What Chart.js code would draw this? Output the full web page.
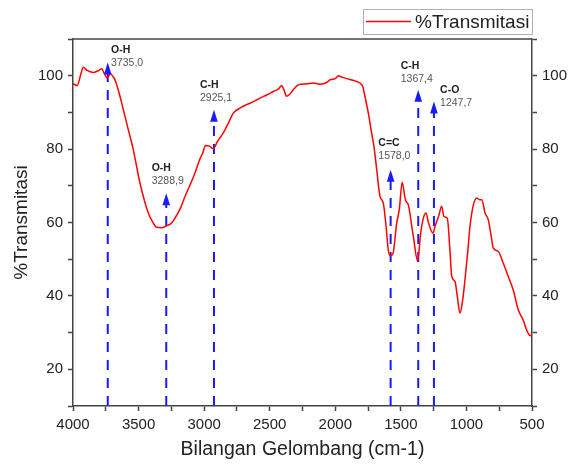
<!DOCTYPE html>
<html>
<head>
<meta charset="utf-8">
<script src="https://cdn.jsdelivr.net/npm/chart.js@4.4.1/dist/chart.umd.min.js"></script>
<style>
  html, body { margin: 0; padding: 0; background: #fff; }
  #wrap { width: 570px; height: 466px; }
</style>
</head>
<body>
<div id="wrap"><canvas id="ftir" width="570" height="466"></canvas></div>
<script>
// spectrum (cm-1 vs %T)
const wavenumber = [4000, 3967, 3940, 3921, 3896, 3845, 3800, 3781, 3760, 3740, 3715, 3690, 3680, 3650, 3616, 3580, 3540,
  3489, 3426, 3390, 3362, 3320, 3286, 3250, 3222, 3180, 3146, 3110, 3070, 3030, 3010, 2990, 2960, 2929, 2900, 2854,
  2810, 2778, 2720, 2676, 2620, 2574, 2520, 2473, 2430, 2409, 2390, 2371, 2345, 2320, 2282, 2218, 2167, 2120, 2091,
  2060, 2040, 2000, 1977, 1950, 1913, 1850, 1812, 1790, 1774, 1748, 1723, 1705, 1684, 1659, 1634, 1613, 1596, 1578,
  1560, 1532, 1512, 1490, 1470, 1461, 1443, 1405, 1372, 1349, 1330, 1308, 1290, 1255, 1240, 1210, 1189, 1171, 1146,
  1125, 1112, 1087, 1070, 1049, 1030, 1011, 990, 973, 947, 921, 900, 883, 858, 833, 810, 795, 757, 719, 681, 643,
  605, 567, 541, 520, 500];
const transmitasi = [97.8, 97.3, 100.5, 102.3, 101.5, 100.9, 101.5, 101.9, 100.5, 99.4, 100.5, 99.5, 98.9, 95.5, 90.7, 85.5, 79.8,
  70.7, 62.6, 60.0, 58.7, 58.6, 59.1, 59.8, 61.2, 64.0, 67.1, 70.0, 73.5, 77.5, 79.0, 81.0, 80.8, 80.1, 82.0, 84.4,
  87.5, 89.8, 91.3, 92.1, 93.0, 93.9, 94.8, 95.7, 96.5, 97.3, 96.0, 94.4, 95.0, 96.2, 97.5, 97.8, 98.0, 97.7, 97.8,
  98.3, 98.9, 99.2, 100.0, 99.6, 99.2, 98.6, 98.0, 97.0, 94.4, 89.8, 84.4, 80.7, 74.4, 67.1, 65.3, 59.1, 52.5, 51.0,
  51.5, 59.8, 63.5, 71.0, 67.0, 65.8, 64.8, 56.2, 49.5, 57.0, 61.0, 62.6, 60.0, 57.1, 58.9, 62.0, 64.4, 61.6, 61.2,
  52.0, 45.3, 43.9, 40.0, 35.3, 38.5, 44.4, 52.0, 58.9, 64.8, 66.7, 66.2, 66.2, 62.6, 60.7, 56.0, 53.0, 52.1, 48.9, 45.3, 41.6,
  36.2, 33.4, 30.7, 29.3, 29.1];

// marked peaks
const peak_wn = [3735.0, 3288.9, 2925.1, 1578.0, 1367.4, 1247.7];
const peak_group = ['O-H', 'O-H', 'C-H', 'C=C', 'C-H', 'C-O'];
const peak_tip = [103.6, 68.0, 90.7, 74.4, 96.2, 93.0];
// where each peak's text sits (cm-1, %T)
const label_wn = [3710, 3400, 3032, 1672, 1501, 1201];
const label_t = [107.1, 74.8, 97.3, 81.5, 102.7, 96.2];

const FONT = "'Liberation Sans', Arial, sans-serif";
const AXIS = '#444';
const BLUE = '#1a1aff';

let spectrum = wavenumber.map((w, i) => ({x: w, y: transmitasi[i]}));
let datasets = [{
  label: '%Transmitasi',
  data: spectrum,
  borderColor: '#ff0000',
  borderWidth: 1.5,
  pointRadius: 0,
  cubicInterpolationMode: 'monotone',
  order: 1
}];
peak_wn.forEach((w, i) => {
  datasets.push({
    label: 'peak' + i,
    data: [{x: w, y: 10}, {x: w, y: peak_tip[i] - 2}],
    borderColor: BLUE,
    borderWidth: 2,
    borderDash: [10, 8],
    pointRadius: 0,
    order: 2
  });
});

const peak_marks = {
  id: 'peak_marks',
  afterDatasetsDraw(chart) {
    let ctx = chart.ctx, xs = chart.scales.x, ys = chart.scales.y;
    ctx.save();
    peak_wn.forEach((w, i) => {
      let px = xs.getPixelForValue(w), py = ys.getPixelForValue(peak_tip[i]);
      ctx.fillStyle = BLUE;
      ctx.beginPath();
      ctx.moveTo(px, py);
      ctx.lineTo(px - 3.8, py + 12);
      ctx.lineTo(px + 3.8, py + 12);
      ctx.closePath();
      ctx.fill();

      let lx = xs.getPixelForValue(label_wn[i]), ly = ys.getPixelForValue(label_t[i]);
      ctx.textAlign = 'left';
      ctx.textBaseline = 'middle';
      ctx.fillStyle = '#222';
      ctx.font = 'bold 10.5px ' + FONT;
      ctx.fillText(peak_group[i], lx, ly);
      ctx.fillStyle = '#555';
      ctx.font = '10.5px ' + FONT;
      ctx.fillText(w.toFixed(1).replace('.', ','), lx, ly + 13);
    });
    ctx.restore();
  },
  afterDraw(chart) {
    let ctx = chart.ctx, a = chart.chartArea;
    ctx.save();
    // top frame line
    ctx.strokeStyle = AXIS;
    ctx.lineWidth = 1.5;
    ctx.beginPath();
    ctx.moveTo(a.left, a.top);
    ctx.lineTo(a.right, a.top);
    ctx.stroke();
    // legend box
    let bx = a.right - 169, by = 9;
    ctx.strokeStyle = '#b0b0b0';
    ctx.lineWidth = 1;
    ctx.strokeRect(bx + 0.5, by + 0.5, 169, 25);
    ctx.strokeStyle = '#ff0000';
    ctx.lineWidth = 1.5;
    ctx.beginPath();
    ctx.moveTo(bx + 3, by + 12.5);
    ctx.lineTo(bx + 48, by + 12.5);
    ctx.stroke();
    ctx.fillStyle = '#222';
    ctx.font = '19px ' + FONT;
    ctx.textAlign = 'left';
    ctx.textBaseline = 'middle';
    ctx.fillText(datasets[0].label, bx + 52, by + 13.5);
    ctx.restore();
  }
};

function y_axis(side) {
  return {
    type: 'linear',
    position: side,
    min: 10, max: 110,
    afterFit: s => { s.width = side == 'left' ? 73 : 38; },
    ticks: {
      stepSize: 10,
      padding: 5,
      color: '#222',
      font: {family: FONT, size: 15},
      callback: v => (v % 20 == 0 && v >= 20 && v <= 100) ? v : ''
    },
    grid: {drawOnChartArea: false, drawTicks: true, tickLength: 5, tickColor: AXIS, tickWidth: 1.5},
    border: {display: true, color: AXIS, width: 1.5},
    title: {
      display: side == 'left',
      text: '%Transmitasi',
      color: '#222',
      font: {family: FONT, size: 19},
      padding: {top: 10, bottom: 0}
    }
  };
}

new Chart(document.getElementById('ftir'), {
  type: 'line',
  data: {datasets: datasets},
  options: {
    responsive: false,
    devicePixelRatio: 1,
    animation: false,
    layout: {padding: {top: 39, left: 0, right: 0, bottom: 0}},
    plugins: {legend: {display: false}, tooltip: {enabled: false}},
    scales: {
      x: {
        type: 'linear',
        reverse: true,
        min: 500, max: 4000,
        afterFit: s => { s.height = 60; },
        ticks: {
          stepSize: 250,
          padding: 5,
          maxRotation: 0,
          autoSkip: false,
          color: '#222',
          font: {family: FONT, size: 15},
          callback: v => v % 500 == 0 ? v : ''
        },
        grid: {drawOnChartArea: false, drawTicks: true, tickLength: 5, tickColor: AXIS, tickWidth: 1.5},
        border: {display: true, color: AXIS, width: 1.5},
        title: {
          display: true,
          text: 'Bilangan Gelombang (cm-1)',
          color: '#222',
          font: {family: FONT, size: 19.5},
          padding: {top: 0, bottom: 5}
        }
      },
      y: y_axis('left'),
      y2: y_axis('right')
    }
  },
  plugins: [peak_marks]
});
</script>
</body>
</html>
